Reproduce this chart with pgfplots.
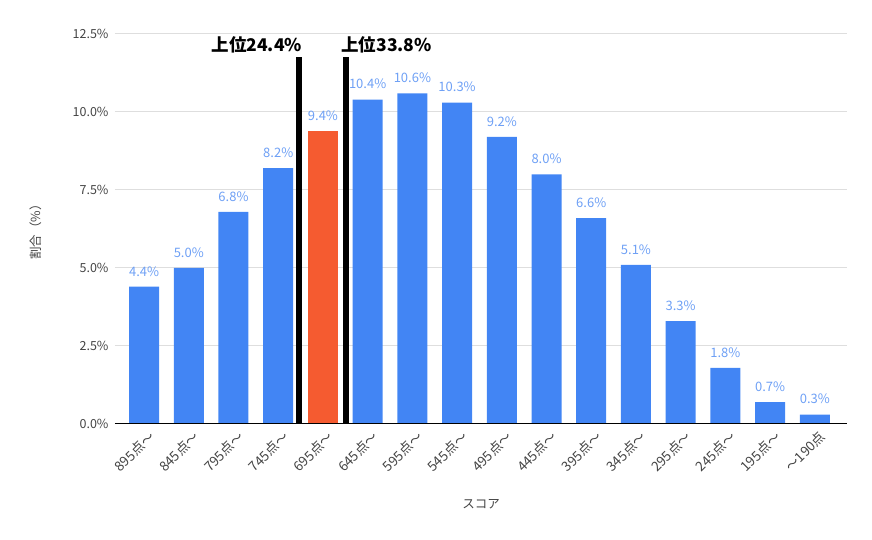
\documentclass[border=0pt]{standalone}
\usepackage{fontspec}
\setmainfont{Noto Sans CJK JP}
\usepackage{pgfplots}
\pgfplotsset{compat=1.18}
\definecolor{barblue}{RGB}{66,133,244}
\definecolor{barorange}{RGB}{245,91,48}
\definecolor{lblblue}{RGB}{110,160,245}
\definecolor{gridgray}{RGB}{222,222,222}
\definecolor{txtgray}{RGB}{68,68,68}
\begin{document}
\begin{tikzpicture}
\useasboundingbox (0pt,0pt) rectangle (872pt,540pt);
\begin{axis}[
  at={(115pt,116pt)}, anchor=south west,
  scale only axis, width=732pt, height=390pt,
  xmin=-0.65, xmax=15.72,
  ymin=0, ymax=12.5,
  ytick={0,2.5,5,7.5,10,12.5},
  yticklabel={\pgfmathprintnumber[fixed,fixed zerofill,precision=1]{\tick}\%},
  /pgf/number format/assume math mode=true,
  xtick={0,...,15},
  xticklabels={895点〜,845点〜,795点〜,745点〜,695点〜,645点〜,595点〜,545点〜,495点〜,445点〜,395点〜,345点〜,295点〜,245点〜,195点〜,〜190点},
  xticklabel style={rotate=45, anchor=north east, font=\fontsize{13.5}{15}\selectfont, text=txtgray, yshift=-3pt, xshift=2pt},
  yticklabel style={font=\fontsize{12.5}{14}\selectfont, text=txtgray, xshift=-3pt},
  major tick length=0pt,
  ymajorgrids, grid style={gridgray, line width=1pt},
  axis line style={draw=none},
  axis x line*=bottom,
  axis y line*=left,
  xlabel={スコア}, ylabel={割合（\%）},
  xlabel style={font=\fontsize{12.5}{14}\selectfont, text=txtgray, at={(axis description cs:0.5,0)}, anchor=north, yshift=-72pt},
  ylabel style={font=\fontsize{12.5}{14}\selectfont, text=txtgray, at={(axis description cs:0,0.5)}, anchor=south, yshift=70pt},
  clip=false,
  ybar, bar width=30pt, bar shift=0pt,
  nodes near coords={\pgfmathprintnumber[fixed,fixed zerofill,precision=1]{\pgfplotspointmeta}\%},
  nodes near coords style={font=\fontsize{13}{15}\selectfont, text=lblblue, anchor=south, yshift=7pt},
]
\addplot[fill=barblue, draw=none] coordinates {
(0,4.4) (1,5.0) (2,6.8) (3,8.2) (5,10.4) (6,10.6) (7,10.3) (8,9.2) (9,8.0) (10,6.6) (11,5.1) (12,3.3) (13,1.8) (14,0.7) (15,0.3)};
\addplot[fill=barorange, draw=none] coordinates {(4,9.4)};
\draw[black, line width=1pt] (axis cs:-0.65,0) -- (axis cs:15.72,0);
\addplot[sharp plot, black, line width=6pt, nodes near coords={}, forget plot] coordinates {(3.47,0) (3.47,11.76)};
\addplot[sharp plot, black, line width=6pt, nodes near coords={}, forget plot] coordinates {(4.52,0) (4.52,11.76)};
\node[anchor=south east, font=\fontsize{17.5}{19}\selectfont\bfseries, inner sep=0pt, xshift=3pt, yshift=4pt] at (axis cs:3.47,11.76) {上位24.4\%};
\node[anchor=south west, font=\fontsize{17.5}{19}\selectfont\bfseries, inner sep=0pt, xshift=-5pt, yshift=4pt] at (axis cs:4.52,11.76) {上位33.8\%};
\end{axis}
\end{tikzpicture}
\end{document}
